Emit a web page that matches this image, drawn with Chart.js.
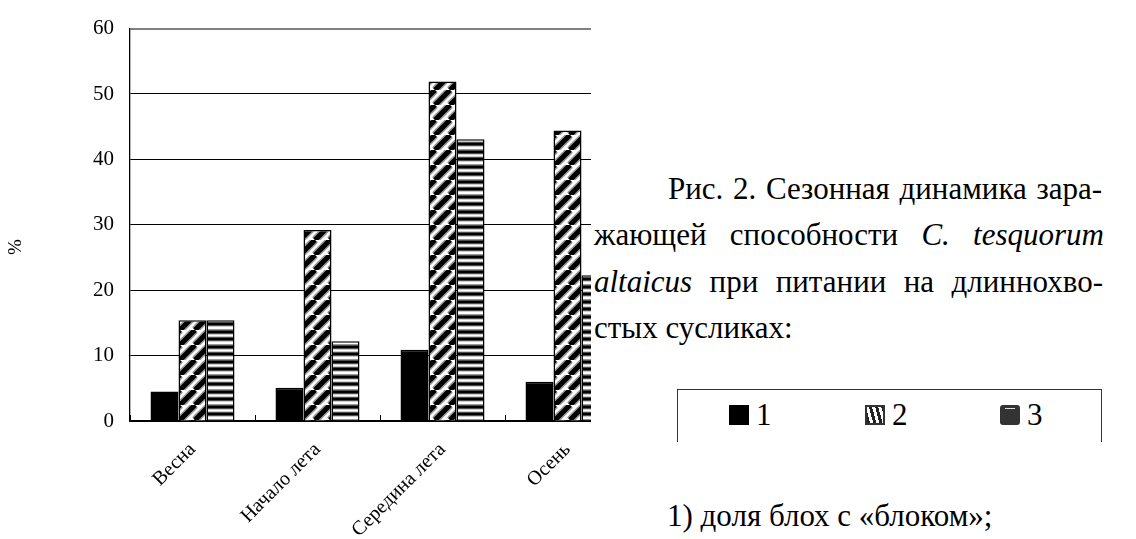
<!DOCTYPE html>
<html>
<head>
<meta charset="utf-8">
<script src="https://cdn.jsdelivr.net/npm/chart.js@4.4.0/dist/chart.umd.min.js"></script>
<style>
  html, body { margin: 0; padding: 0; background: #fff; }
  body { width: 1136px; height: 539px; position: relative; overflow: hidden; color: #000; }
  #chartClip { position: absolute; left: 0; top: 0; width: 591px; height: 539px; overflow: hidden; }
  #chartBox { position: absolute; left: 0; top: 0; width: 640px; height: 539px; }
  .line, .item { font-family: "Liberation Serif", "Times New Roman", serif; }
  .line { position: absolute; font-size: 31px; line-height: 31px; white-space: nowrap; }
  .just { text-align: justify; text-align-last: justify; }
  #legend { position: absolute; left: 677px; top: 389px; width: 423px; height: 52px;
            border: 1px solid #333; border-bottom: none; }
  .item { position: absolute; top: 9px; font-size: 31px; line-height: 31px; }
  .ic { display: inline-block; width: 20px; height: 20px; margin-right: 7px;
        box-sizing: border-box; position: relative; }
  .ic1 { background: #000; }
  .ic2 { border: 2px solid #333;
         background: repeating-linear-gradient(75deg, #222 0 3px, #fff 3px 6px); }
  .ic3 { background: #333; border-radius: 3px; }
  .ic3::after { content: ""; position: absolute; left: 5px; top: 3px; width: 10px; height: 1px; background: #ddd; }
</style>
</head>
<body>
<div id="chartClip"><div id="chartBox"><canvas id="seasonChart"></canvas></div></div>

<div class="line just" style="left:668px; top:173px; width:434px;">Рис. 2. Сезонная динамика зара-</div>
<div class="line just" style="left:594px; top:219px; width:510px;">жающей способности <i>C. tesquorum</i></div>
<div class="line just" style="left:594px; top:266px; width:509px;"><i>altaicus</i> при питании на длиннохво-</div>
<div class="line" style="left:594px; top:312px;">стых сусликах:</div>
<div id="legend"></div>
<div class="line" style="left:667px; top:500px;">1) доля блох с «блоком»;</div>

<script>
const seasons = ["Весна", "Начало лета", "Середина лета", "Осень"];
const seriesNames = ["1", "2", "3"];
const blocked = [4.5, 5.1, 10.9, 6.0];
const series2 = [15.4, 29.2, 51.9, 44.4];
const series3 = [15.4, 12.2, 43.1, 22.3];
const yMin = 0, yMax = 60, yStep = 10;

Chart.defaults.font.family = "'Liberation Serif', 'Times New Roman', serif";

// fill patterns like the scanned figure
function hatchPattern() {
    const s = 15;
    const c = document.createElement("canvas");
    c.width = s; c.height = s;
    const g = c.getContext("2d");
    g.fillStyle = "#fff";
    g.fillRect(0, 0, s, s);
    const draw = (w, col) => {
        g.strokeStyle = col;
        g.lineWidth = w;
        g.beginPath();
        for (const o of [-s, 0, s]) { g.moveTo(o, s); g.lineTo(o + s, 0); }
        g.stroke();
    };
    draw(8, "#999");
    draw(5, "#000");
    return g.createPattern(c, "repeat");
}

function stripePattern() {
    const c = document.createElement("canvas");
    c.width = 4; c.height = 15;
    const g = c.getContext("2d");
    g.fillStyle = "#fff";
    g.fillRect(0, 0, 4, 15);
    g.fillStyle = "#999";
    g.fillRect(0, 0, 4, 4.5);
    g.fillRect(0, 6.5, 4, 5);
    g.fillRect(0, 14, 4, 1);
    g.fillStyle = "#000";
    g.fillRect(0, 0.5, 4, 3);
    g.fillRect(0, 7.5, 4, 3);
    return g.createPattern(c, "repeat");
}

const fills = ["#000", hatchPattern(), stripePattern()];
const values = [blocked, series2, series3];

// small tick marks between categories, pointing up into the plot
const innerTicks = {
    id: "innerTicks",
    afterDatasetsDraw(chart) {
        const x = chart.scales.x, y = chart.scales.y, ctx = chart.ctx;
        ctx.save();
        ctx.strokeStyle = "#000";
        ctx.lineWidth = 1;
        ctx.beginPath();
        for (let i = 0; i <= seasons.length; i++) {
            const px = Math.round(x.getPixelForValue(i - 0.5)) + 0.5;
            ctx.moveTo(px, y.bottom);
            ctx.lineTo(px, y.bottom - 6);
        }
        ctx.stroke();
        ctx.restore();
    }
};

// "%" axis caption, sitting a bit below the middle of the axis
const percentLabel = {
    id: "percentLabel",
    afterDraw(chart) {
        const ctx = chart.ctx;
        ctx.save();
        ctx.translate(16, 247);
        ctx.rotate(-Math.PI / 2);
        ctx.font = "19px 'Liberation Serif', serif";
        ctx.fillStyle = "#000";
        ctx.textAlign = "center";
        ctx.textBaseline = "middle";
        ctx.fillText("%", 0, 0);
        ctx.restore();
    }
};

const chart = new Chart(document.getElementById("seasonChart"), {
    type: "bar",
    data: {
        labels: seasons,
        datasets: seriesNames.map((name, i) => ({
            label: name,
            data: values[i],
            backgroundColor: fills[i],
            borderColor: "#000",
            borderWidth: 1.5,
            categoryPercentage: 0.672,
            barPercentage: 1
        }))
    },
    options: {
        responsive: true,
        maintainAspectRatio: false,
        animation: false,
        layout: { padding: { top: 23, right: 10, bottom: 0, left: 0 } },
        plugins: { legend: { display: false }, tooltip: { enabled: false } },
        scales: {
            x: {
                grid: { drawOnChartArea: false, drawTicks: false },
                border: { color: "#000", width: 1.3 },
                ticks: {
                    minRotation: 45, maxRotation: 45, padding: 17, color: "#000",
                    font: { size: 20 }
                },
                afterFit(s) { s.height = 118; }
            },
            y: {
                min: yMin, max: yMax,
                ticks: {
                    stepSize: yStep, padding: 16, color: "#000",
                    font: { size: 21 }
                },
                grid: {
                    drawTicks: false,
                    color: c => (c.tick && c.tick.value === yMax ? "#808080" : "#000"),
                    lineWidth: c => (c.tick && c.tick.value === yMax ? 2 : 1)
                },
                border: { color: "#000", width: 1.3 },
                afterFit(s) { s.width = 130; }
            }
        }
    },
    plugins: [innerTicks, percentLabel]
});

// legend box built from the dataset names
const legendBox = document.getElementById("legend");
chart.data.datasets.forEach((ds, i) => {
    const item = document.createElement("div");
    item.className = "item";
    item.style.left = Math.round(51 + i * 135.5) + "px";
    const icon = document.createElement("span");
    icon.className = "ic ic" + (i + 1);
    item.appendChild(icon);
    item.appendChild(document.createTextNode(ds.label));
    legendBox.appendChild(item);
});
</script>
</body>
</html>
